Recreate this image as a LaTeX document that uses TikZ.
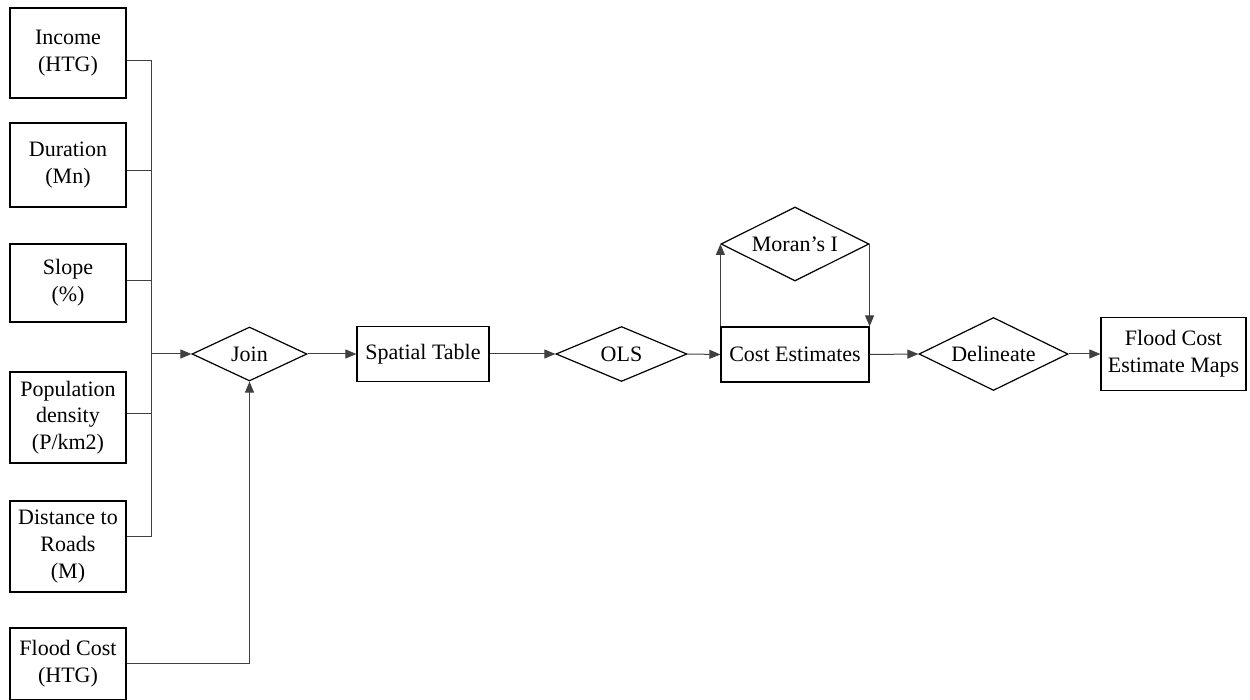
\documentclass[tikz,border=0pt]{standalone}
\usepackage{fontspec}
\setmainfont{Liberation Serif}
\usetikzlibrary{shapes.geometric,arrows.meta}

\begin{document}
\begin{tikzpicture}
[
x=0.5pt, y=-0.5pt,
>={Triangle[length=5.5pt,width=4.5pt]},
every node/.style={font=\fontsize{11}{13.3}\selectfont, align=center, line width=0.6pt, inner sep=0pt},
box/.style={rectangle, draw},
decide/.style={diamond, draw, shape aspect=2},
link/.style={black!75, line width=0.5pt}
]
\useasboundingbox (0,0) rectangle (1250,700);

% input layers
\node[box, minimum width=58pt, minimum height=45pt] (income) at (68,53) {Income\\(HTG)};
\node[box, minimum width=58pt, minimum height=42pt] (duration) at (68,165) {Duration\\(Mn)};
\node[box, minimum width=58pt, minimum height=39pt] (slope) at (68,283) {Slope\\(\%)};
\node[box, minimum width=58pt, minimum height=45.5pt] (popdens) at (68,417.5) {Population\\density\\(P/km2)};
\node[box, minimum width=58pt, minimum height=45.5pt] (roads) at (68,546.5) {Distance to\\Roads\\(M)};
\node[box, minimum width=58pt, minimum height=36pt] (floodcost) at (68,664) {Flood Cost\\(HTG)};

% process chain
\node[decide, minimum width=57.5pt, minimum height=27pt] (join) at (249.5,354) {Join};
\node[box, minimum width=66pt, minimum height=27.5pt] (table) at (423,354) {Spatial Table};
\node[decide, minimum width=65.5pt, minimum height=27.5pt] (ols) at (621.5,354) {OLS};
\node[box, minimum width=74pt, minimum height=27.5pt] (estimates) at (795,354.5) {Cost Estimates};
\node[decide, minimum width=74pt, minimum height=37pt] (moran) at (795,244) {Moran's I};
\node[decide, minimum width=74.5pt, minimum height=36.5pt] (delineate) at (993.5,354) {Delineate};
\node[box, minimum width=72.5pt, minimum height=36.5pt] (maps) at (1173.5,354) {Flood Cost\\Estimate Maps};

% bus on the left
\coordinate (b1) at (151,61);
\coordinate (b2) at (151,171);
\coordinate (b3) at (151,281);
\coordinate (b4) at (151,414);
\coordinate (b5) at (151,537);
\coordinate (bj) at (151,354);

\draw[link] (income.east |- b1) -- (b1) -- (b5) -- (roads.east |- b5);
\draw[link] (duration.east |- b2) -- (b2);
\draw[link] (slope.east |- b3) -- (b3);
\draw[link] (popdens.east |- b4) -- (b4);
\draw[link,->] (bj) -- (join.west);
\draw[link,->] (floodcost.east |- 0,664) -| (join.south);

\draw[link,->] (join.east) -- (table.west);
\draw[link,->] (table.east) -- (ols.west);
\draw[link,->] (ols.east) -- (estimates.west);
\draw[link,->] (estimates.east) -- (delineate.west);
\draw[link,->] (delineate.east) -- (maps.west);

% loop through Moran's I
\draw[link,->] (estimates.north west) -- (estimates.north west |- moran.west);
\draw[link,->] (moran.east) -- (moran.east |- estimates.north east);
\end{tikzpicture}
\end{document}
